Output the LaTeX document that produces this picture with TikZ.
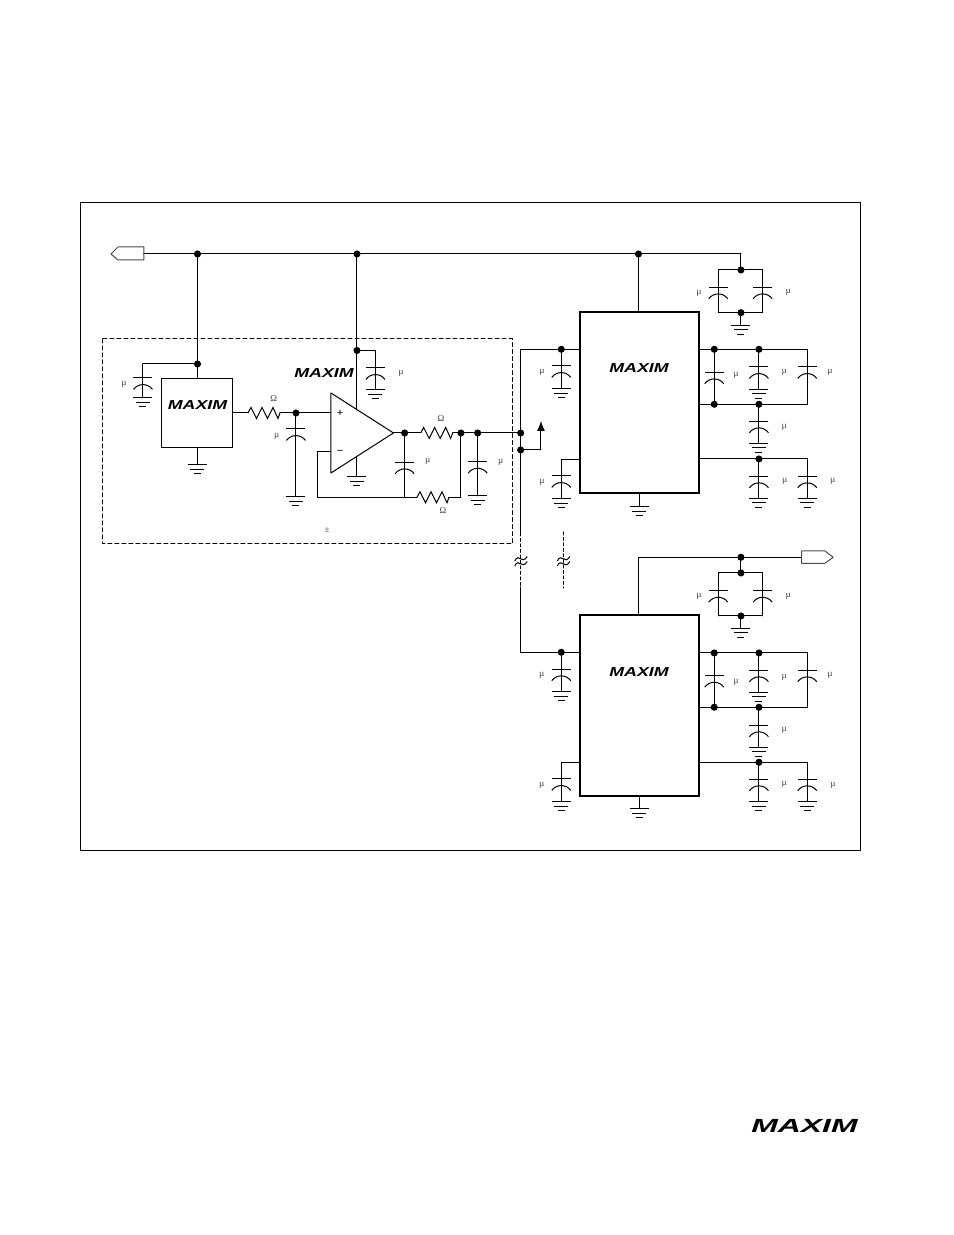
\documentclass[tikz,border=0pt]{standalone}
\usepackage{amsmath}
\usepackage{fontspec}
\usepackage{tkz-euclide}
\usetikzlibrary{arrows.meta}
\setmainfont{Liberation Serif}
\newfontfamily\logofont{Liberation Sans}

\tikzset{
  picunit/.style={scale=.35146},
  unitlabel/.style={font=\small,text=black!75,inner sep=0pt},
  signlabel/.style={font=\logofont\fontsize{11}{11}\selectfont,inner sep=0pt},
  logo/.style={font=\logofont\bfseries\itshape\fontsize{13}{13}\selectfont,inner sep=0pt},
  biglogo/.style={font=\logofont\bfseries\itshape\fontsize{19}{19}\selectfont,inner sep=0pt},
  chipbox/.style={draw,line width=2pt,inner sep=0pt,minimum width=119pt,minimum height=181pt},
  pics/capv/.style={code={
    \draw[picunit] (-.95,0) -- (.95,0);
    \draw[picunit] (-.95,-1.15) .. controls (-.5,-.5) and (.5,-.5) .. (.95,-1.15);}},
  pics/gnd/.style={code={
    \draw[picunit] (-.95,0) -- (.95,0);
    \draw[picunit] (-.7,-.45) -- (.7,-.45);
    \draw[picunit] (-.35,-.9) -- (.35,-.9);}},
  pics/resh/.style={code={
    \draw[picunit] (0,0) -- (.3,.55) -- (.85,-.55) -- (1.4,.55) -- (1.95,-.55) -- (2.5,.55) -- (3.0,-.55) -- (3.2,0);}},
  pics/brk/.style={code={
    \draw[picunit] (-.6,0) .. controls (-.15,.9) and (.1,-.45) .. (.65,.45);
    \draw[picunit] (-.6,-.5) .. controls (-.15,.4) and (.1,-.95) .. (.65,-.05);}}
}

\begin{document}
\begin{tikzpicture}[scale=.35146,line width=1pt]
\tkzSetUpLine[line width=1pt]
\useasboundingbox (0,0) rectangle (95.4,-123.5);

\tkzDefPoint(8.1,-20.3){FA} \tkzDefPoint(86.1,-20.3){FB}
\tkzDefPoint(86.1,-85.1){FC} \tkzDefPoint(8.1,-85.1){FD}
\tkzDrawPolygon[line width=1pt,color=black](FA,FB,FC,FD)

\tkzDefPoint(10.3,-33.9){DA} \tkzDefPoint(51.25,-33.9){DB}
\tkzDefPoint(51.25,-54.4){DC} \tkzDefPoint(10.3,-54.4){DD}
\tkzDrawPolygon[line width=1pt,color=black,dash pattern=on 4pt off 3pt](DA,DB,DC,DD)

% input port and rail
\tkzDefPoint(11.1,-25.4){inTip} \tkzDefPoint(11.8,-24.7){inB}
\tkzDefPoint(14.4,-24.7){inC} \tkzDefPoint(14.4,-26){inD}
\tkzDefPoint(11.8,-26){inE}
\tkzDrawPolygon[line width=1pt,color=black!70](inTip,inB,inC,inD,inE)
\tkzDefPoint(14.4,-25.4){railL} \tkzDefPoint(19.75,-25.4){railA}
\tkzDefPoint(35.7,-25.4){railB} \tkzDefPoint(63.85,-25.4){railC}
\tkzDefPoint(74.1,-25.4){railR}
\tkzDrawSegment(railL,railR)

% reference chip
\node[draw,inner sep=0pt,minimum width=71pt,minimum height=69pt] (refChip) at (19.7,-41.3) {};
\node[logo] (refLogo) at (19.75,-40.5) {\scalebox{1.37}[1]{MAXIM}};
\tkzDefPoint(19.75,-36.4){refJ} \tkzDefPoint(19.75,-37.85){refT}
\tkzDrawSegment(railA,refT)
\tkzDefPoint(14.3,-36.4){refK} \tkzDefPoint(14.3,-37.8){c1} \tkzDefPoint(14.3,-39.8){g1}
\tkzDrawSegment(refJ,refK) \tkzDrawSegment(refK,g1)
\pic at (c1) {capv}; \pic at (g1) {gnd};
\node[unitlabel] (u1) at (12.4,-38.4) {µ};
\tkzDefPoint(19.75,-44.75){refB} \tkzDefPoint(19.75,-46.5){g2}
\tkzDrawSegment(refB,g2) \pic at (g2) {gnd};

% filter into the buffer
\tkzDefPoint(23.25,-41.3){refO} \tkzDefPoint(24.8,-41.3){r1L} \tkzDefPoint(28,-41.3){r1R}
\tkzDefPoint(29.6,-41.3){j1} \tkzDefPoint(33.1,-41.3){opP}
\tkzDrawSegment(refO,r1L) \pic at (r1L) {resh};
\tkzDrawSegment(r1R,opP)
\node[unitlabel] (o1) at (27.37,-39.9) {Ω};
\tkzDefPoint(29.6,-42.9){c3} \tkzDefPoint(29.6,-49.67){g3}
\tkzDrawSegment(j1,g3) \pic at (c3) {capv}; \pic at (g3) {gnd};
\node[unitlabel] (u3) at (27.67,-43.6) {µ};

% buffer
\tkzDefPoint(33.1,-39.3){opA} \tkzDefPoint(33.1,-47.3){opB} \tkzDefPoint(39.35,-43.3){opO}
\tkzDrawPolygon[line width=1pt,color=black](opA,opB,opO)
\node[signlabel] (opPlus) at (34,-41.3) {+};
\node[signlabel] (opMinus) at (34,-45.2) {−};
\tkzDefPoint(35.7,-35.05){j2} \tkzDefPoint(35.7,-41){opV}
\tkzDrawSegment(railB,opV)
\tkzDefPoint(37.55,-35.05){k4} \tkzDefPoint(37.55,-36.8){c4} \tkzDefPoint(37.55,-39){g4}
\tkzDrawSegment(j2,k4) \tkzDrawSegment(k4,g4)
\pic at (c4) {capv}; \pic at (g4) {gnd};
\node[unitlabel] (u4) at (40.1,-37.3) {µ};
\node[logo] (opLogo) at (32.4,-37.3) {\scalebox{1.37}[1]{MAXIM}};
\tkzDefPoint(35.7,-45.7){opG} \tkzDefPoint(35.7,-47.7){g5}
\tkzDrawSegment(opG,g5) \pic at (g5) {gnd};

% feedback
\tkzDefPoint(33.1,-45.2){fbA} \tkzDefPoint(31.73,-45.2){fbB} \tkzDefPoint(31.73,-49.73){fbC}
\tkzDefPoint(40.47,-49.73){fbD} \tkzDefPoint(41.7,-49.73){r3L} \tkzDefPoint(44.9,-49.73){r3R}
\tkzDefPoint(46.1,-49.73){fbE} \tkzDefPoint(46.1,-43.3){j5}
\tkzDrawSegment(fbA,fbB) \tkzDrawSegment(fbB,fbC) \tkzDrawSegment(fbC,r3L)
\pic at (r3L) {resh}; \tkzDrawSegment(r3R,fbE) \tkzDrawSegment(fbE,j5)
\node[unitlabel] (o3) at (44.3,-51.1) {Ω};

% output of the buffer
\tkzDefPoint(40.47,-43.3){j4} \tkzDefPoint(42.07,-43.3){r2L} \tkzDefPoint(45.27,-43.3){r2R}
\tkzDefPoint(47.77,-43.3){j6} \tkzDefPoint(52.07,-43.3){j7}
\tkzDrawSegment(opO,r2L) \pic at (r2L) {resh}; \tkzDrawSegment(r2R,j7)
\node[unitlabel] (o2) at (44.1,-41.87) {Ω};
\tkzDefPoint(40.47,-46.23){c6}
\tkzDrawSegment(j4,fbD) \pic at (c6) {capv};
\node[unitlabel] (u6) at (42.76,-46.17) {µ};
\tkzDefPoint(47.77,-46.17){c7} \tkzDefPoint(47.77,-49.6){g7}
\tkzDrawSegment(j6,g7) \pic at (c7) {capv}; \pic at (g7) {gnd};
\node[unitlabel] (u7) at (50.06,-46.2) {µ};
\node[unitlabel] (pm) at (32.7,-53) {±};

% sense wire and arrow
\tkzDefPoint(52.07,-45){j8} \tkzDefPoint(54.1,-45){senB} \tkzDefPoint(54.1,-42.1){senT}
\tkzDrawSegment(j8,senB) \tkzDrawSegment[-{Latex[length=10pt,width=8pt]}](senB,senT)

% bus between the two devices
\tkzDefPoint(58,-34.93){aL1} \tkzDefPoint(52.07,-34.93){busT}
\tkzDefPoint(52.07,-53.3){busM} \tkzDefPoint(52.07,-58.7){busN} \tkzDefPoint(52.07,-65.23){busB}
\tkzDefPoint(58,-65.23){bL1}
\tkzDrawSegment(aL1,busT) \tkzDrawSegment(busT,busM)
\tkzDrawSegment[dash pattern=on 3pt off 2.5pt](busM,busN)
\tkzDrawSegment(busN,busB) \tkzDrawSegment(busB,bL1)
\pic at (52.07,-56.1) {brk};
\tkzDefPoint(56.33,-53.2){cutT} \tkzDefPoint(56.33,-58.8){cutB}
\tkzDrawSegment[dash pattern=on 3pt off 2.5pt](cutT,cutB)
\pic at (56.33,-56.1) {brk};

% first device
\node[chipbox] (chipA) at (63.95,-40.22) {};
\node[logo] (logoA) at (63.9,-36.8) {\scalebox{1.37}[1]{MAXIM}};
\tkzDefPoint(63.85,-31.17){aT} \tkzDrawSegment(railC,aT)
\tkzDefPoint(63.95,-49.27){aB} \tkzDefPoint(63.95,-50.67){g10}
\tkzDrawSegment(aB,g10) \pic at (g10) {gnd};
\tkzDefPoint(56.13,-34.93){j10} \tkzDefPoint(56.13,-36.6){c11} \tkzDefPoint(56.13,-38.87){g11}
\tkzDrawSegment(j10,g11) \pic at (c11) {capv}; \pic at (g11) {gnd};
\node[unitlabel] (u11) at (54.2,-37.2) {µ};
\tkzDefPoint(58,-45.93){aL2} \tkzDefPoint(56.13,-45.93){k12}
\tkzDefPoint(56.13,-47.6){c12} \tkzDefPoint(56.13,-49.9){g12}
\tkzDrawSegment(aL2,k12) \tkzDrawSegment(k12,g12) \pic at (c12) {capv}; \pic at (g12) {gnd};
\node[unitlabel] (u12) at (54.2,-48.2) {µ};
% pair on the rail
\tkzDefPoint(74.1,-27){j13} \tkzDefPoint(74.1,-31.27){j14}
\tkzDefPoint(71.83,-27){k13} \tkzDefPoint(76.27,-27){k14}
\tkzDefPoint(71.83,-31.27){k15} \tkzDefPoint(76.27,-31.27){k16}
\tkzDefPoint(71.83,-28.73){c13} \tkzDefPoint(76.27,-28.73){c14}
\tkzDefPoint(74.1,-32.53){g13}
\tkzDrawSegment(railR,j13) \tkzDrawSegment(k13,k14) \tkzDrawSegment(k13,k15)
\tkzDrawSegment(k14,k16) \tkzDrawSegment(k15,k16) \tkzDrawSegment(j14,g13)
\pic at (c13) {capv}; \pic at (c14) {capv}; \pic at (g13) {gnd};
\node[unitlabel] (u13) at (69.9,-29.3) {µ};
\node[unitlabel] (u14) at (78.83,-29.2) {µ};
% right side
\tkzDefPoint(69.95,-34.93){aR1} \tkzDefPoint(71.43,-34.93){j15} \tkzDefPoint(75.9,-34.93){j16}
\tkzDefPoint(80.73,-34.93){k17} \tkzDefPoint(69.95,-40.43){aR2} \tkzDefPoint(71.43,-40.43){j18}
\tkzDefPoint(75.9,-40.43){j19} \tkzDefPoint(80.73,-40.43){k20}
\tkzDrawSegment(aR1,k17) \tkzDrawSegment(k17,k20) \tkzDrawSegment(aR2,k20)
\tkzDefPoint(71.43,-37.23){c15} \tkzDefPoint(75.9,-36.7){c16} \tkzDefPoint(75.9,-38.93){g16}
\tkzDefPoint(80.73,-36.7){c17}
\tkzDrawSegment(j15,j18) \tkzDrawSegment(j16,g16)
\pic at (c15) {capv}; \pic at (c16) {capv}; \pic at (g16) {gnd}; \pic at (c17) {capv};
\node[unitlabel] (u15) at (73.6,-37.57) {µ};
\node[unitlabel] (u16) at (78.43,-37.23) {µ};
\node[unitlabel] (u17) at (83,-37.2) {µ};
\tkzDefPoint(75.9,-42.13){c18} \tkzDefPoint(75.9,-44.33){g18}
\tkzDrawSegment(j19,g18) \pic at (c18) {capv}; \pic at (g18) {gnd};
\node[unitlabel] (u18) at (78.43,-42.7) {µ};
\tkzDefPoint(69.95,-45.9){aR3} \tkzDefPoint(75.9,-45.9){j21} \tkzDefPoint(80.73,-45.9){k22}
\tkzDefPoint(75.9,-47.63){c21} \tkzDefPoint(75.9,-49.83){g21}
\tkzDefPoint(80.73,-47.63){c22} \tkzDefPoint(80.73,-49.83){g22}
\tkzDrawSegment(aR3,k22) \tkzDrawSegment(j21,g21) \tkzDrawSegment(k22,g22)
\pic at (c21) {capv}; \pic at (g21) {gnd}; \pic at (c22) {capv}; \pic at (g22) {gnd};
\node[unitlabel] (u21) at (78.47,-48.1) {µ};
\node[unitlabel] (u22) at (83.27,-48.1) {µ};

% second device
\node[chipbox] (chipB) at (63.95,-70.58) {};
\node[logo] (logoB) at (63.9,-67.17) {\scalebox{1.37}[1]{MAXIM}};
\tkzDefPoint(63.83,-61.5){bT} \tkzDefPoint(63.83,-55.73){bK} \tkzDefPoint(74.1,-55.73){j30}
\tkzDefPoint(80.17,-55.73){outL}
\tkzDrawSegment(bT,bK) \tkzDrawSegment(bK,outL)
\tkzDefPoint(80.17,-55.1){outA} \tkzDefPoint(82.5,-55.1){outB} \tkzDefPoint(83.33,-55.73){outTip}
\tkzDefPoint(82.5,-56.33){outC} \tkzDefPoint(80.17,-56.33){outD}
\tkzDrawPolygon[line width=1pt,color=black!70](outA,outB,outTip,outC,outD)
\tkzDefPoint(63.95,-79.63){bB} \tkzDefPoint(63.95,-80.87){g30}
\tkzDrawSegment(bB,g30) \pic at (g30) {gnd};
\tkzDefPoint(56.13,-65.23){j31} \tkzDefPoint(56.13,-66.93){c31} \tkzDefPoint(56.13,-69.17){g31}
\tkzDrawSegment(j31,g31) \pic at (c31) {capv}; \pic at (g31) {gnd};
\node[unitlabel] (u31) at (54.17,-67.5) {µ};
\tkzDefPoint(58,-76.23){bL2} \tkzDefPoint(56.13,-76.23){k32}
\tkzDefPoint(56.13,-77.9){c32} \tkzDefPoint(56.13,-80.17){g32}
\tkzDrawSegment(bL2,k32) \tkzDrawSegment(k32,g32) \pic at (c32) {capv}; \pic at (g32) {gnd};
\node[unitlabel] (u32) at (54.17,-78.5) {µ};
% pair on the output
\tkzDefPoint(74.1,-57.3){j33} \tkzDefPoint(74.1,-61.6){j34}
\tkzDefPoint(71.83,-57.3){k33} \tkzDefPoint(76.27,-57.3){k34}
\tkzDefPoint(71.83,-61.6){k35} \tkzDefPoint(76.27,-61.6){k36}
\tkzDefPoint(71.83,-59.07){c33} \tkzDefPoint(76.27,-59.07){c34}
\tkzDefPoint(74.1,-62.83){g33}
\tkzDrawSegment(j30,j33) \tkzDrawSegment(k33,k34) \tkzDrawSegment(k33,k35)
\tkzDrawSegment(k34,k36) \tkzDrawSegment(k35,k36) \tkzDrawSegment(j34,g33)
\pic at (c33) {capv}; \pic at (c34) {capv}; \pic at (g33) {gnd};
\node[unitlabel] (u33) at (69.9,-59.67) {µ};
\node[unitlabel] (u34) at (78.83,-59.6) {µ};
% right side
\tkzDefPoint(69.95,-65.3){bR1} \tkzDefPoint(71.43,-65.3){j35} \tkzDefPoint(75.9,-65.3){j36}
\tkzDefPoint(80.73,-65.3){k37} \tkzDefPoint(69.95,-70.73){bR2} \tkzDefPoint(71.43,-70.73){j38}
\tkzDefPoint(75.9,-70.73){j39} \tkzDefPoint(80.73,-70.73){k40}
\tkzDrawSegment(bR1,k37) \tkzDrawSegment(k37,k40) \tkzDrawSegment(bR2,k40)
\tkzDefPoint(71.43,-67.57){c35} \tkzDefPoint(75.9,-67.03){c36} \tkzDefPoint(75.9,-69.23){g36}
\tkzDefPoint(80.73,-67.03){c37}
\tkzDrawSegment(j35,j38) \tkzDrawSegment(j36,g36)
\pic at (c35) {capv}; \pic at (c36) {capv}; \pic at (g36) {gnd}; \pic at (c37) {capv};
\node[unitlabel] (u35) at (73.6,-68.2) {µ};
\node[unitlabel] (u36) at (78.43,-67.7) {µ};
\node[unitlabel] (u37) at (83,-67.5) {µ};
\tkzDefPoint(75.9,-72.53){c38} \tkzDefPoint(75.9,-74.73){g38}
\tkzDrawSegment(j39,g38) \pic at (c38) {capv}; \pic at (g38) {gnd};
\node[unitlabel] (u38) at (78.43,-73) {µ};
\tkzDefPoint(69.95,-76.23){bR3} \tkzDefPoint(75.9,-76.23){j41} \tkzDefPoint(80.73,-76.23){k42}
\tkzDefPoint(75.9,-77.93){c41} \tkzDefPoint(75.9,-80.17){g41}
\tkzDefPoint(80.73,-77.93){c42} \tkzDefPoint(80.73,-80.17){g42}
\tkzDrawSegment(bR3,k42) \tkzDrawSegment(j41,g41) \tkzDrawSegment(k42,g42)
\pic at (c41) {capv}; \pic at (g41) {gnd}; \pic at (c42) {capv}; \pic at (g42) {gnd};
\node[unitlabel] (u41) at (78.43,-78.4) {µ};
\node[unitlabel] (u42) at (83.3,-78.5) {µ};

\tkzDrawPoints[size=6,color=black,fill=black](railA,railB,railC,refJ,j1,j2,j4,j5,j6,j7,j8,j10,j13,j14,j15,j16,j18,j19,j21)
\tkzDrawPoints[size=6,color=black,fill=black](j30,j31,j33,j34,j35,j36,j38,j39,j41)

\node[biglogo] (pageLogo) at (80.45,-112.6) {\scalebox{1.68}[1]{MAXIM}};

\end{tikzpicture}
\end{document}
